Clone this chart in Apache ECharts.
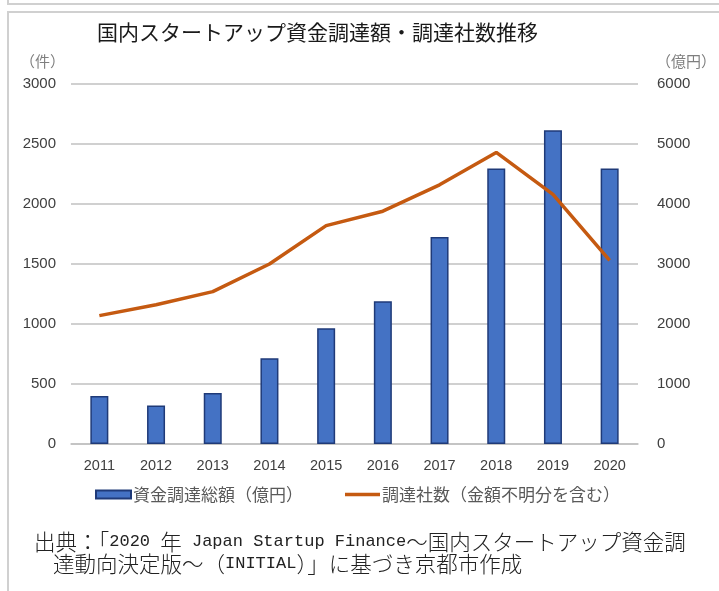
<!DOCTYPE html>
<html>
<head>
<meta charset="utf-8">
<script src="https://cdn.jsdelivr.net/npm/echarts@6/dist/echarts.min.js"></script>
<style>
  html, body { margin: 0; padding: 0; background: #fff; }
  #chart { width: 719px; height: 591px; }
</style>
</head>
<body>
<div id="chart"></div>
<script>
// 年
const years = ['2011', '2012', '2013', '2014', '2015', '2016', '2017', '2018', '2019', '2020']
// 資金調達総額（億円）
const amounts = [800, 640, 850, 1430, 1930, 2380, 3450, 4590, 5230, 4590]
// 調達社数（件）
const companies = [1070, 1160, 1270, 1500, 1820, 1940, 2160, 2430, 2080, 1530]

const jp = "'Noto Sans CJK JP', 'Liberation Sans', sans-serif"

// 出典の文字（全角は c、半角英数は l）
const srcRich = {
  c: { fontFamily: "'Noto Sans CJK JP'", fontSize: 21.5, fontWeight: 300, fill: '#222' },
  l: { fontFamily: "'Liberation Mono', 'DejaVu Sans Mono', monospace", fontSize: 17, fill: '#222' }
}

const chart = echarts.init(document.getElementById('chart'))
chart.setOption({
  animation: false,
  backgroundColor: '#fff',
  title: {
    text: '国内スタートアップ資金調達額・調達社数推移',
    left: 92,
    top: 17,
    textStyle: { fontFamily: jp, fontSize: 21, fontWeight: 'normal', color: '#1a1a1a' }
  },
  grid: { left: 71, right: 79, top: 84, bottom: 147 },
  legend: {
    left: 95,
    top: 486,
    padding: 0,
    itemWidth: 35,
    itemHeight: 8,
    itemGap: 42,
    textStyle: { fontFamily: jp, fontSize: 17, color: '#595959', padding: [0, 0, 0, -3] },
    data: [
      { name: '資金調達総額（億円）', icon: 'rect' },
      { name: '調達社数（金額不明分を含む）', icon: 'path://M0,0 L35,0 L35,3.5 L0,3.5 Z' }
    ]
  },
  xAxis: {
    type: 'category',
    data: years,
    axisTick: { show: false },
    axisLine: { lineStyle: { color: '#c0c0c0', width: 1.5 } },
    axisLabel: { color: '#404040', fontSize: 14.5, margin: 14, fontFamily: 'Liberation Sans' }
  },
  yAxis: [
    {
      type: 'value',
      min: 0,
      max: 3000,
      interval: 500,
      name: '（件）',
      nameGap: 15,
      nameTextStyle: { fontFamily: jp, fontSize: 15, color: '#7f7f7f', align: 'right', padding: [0, 6, 0, 0] },
      axisLabel: { color: '#404040', fontSize: 15, margin: 15, fontFamily: 'Liberation Sans', formatter: v => String(v) },
      splitLine: { lineStyle: { color: '#c0c0c0', width: 1.5 } }
    },
    {
      type: 'value',
      min: 0,
      max: 6000,
      interval: 1000,
      name: '（億円）',
      nameGap: 15,
      nameTextStyle: { fontFamily: jp, fontSize: 15, color: '#7f7f7f', align: 'left', padding: [0, 0, 0, 18] },
      axisLabel: { color: '#404040', fontSize: 15, margin: 19, fontFamily: 'Liberation Sans', formatter: v => String(v) },
      splitLine: { show: false }
    }
  ],
  series: [
    {
      name: '資金調達総額（億円）',
      type: 'bar',
      yAxisIndex: 1,
      data: amounts,
      barWidth: 18,
      itemStyle: { color: '#4472C4', borderColor: '#1f3a78', borderWidth: 1.5 }
    },
    {
      name: '調達社数（金額不明分を含む）',
      type: 'line',
      yAxisIndex: 0,
      data: companies,
      symbol: 'none',
      itemStyle: { color: '#C55A11' },
      lineStyle: { color: '#C55A11', width: 3.5 }
    }
  ],
  graphic: [
    {
      type: 'rect',
      shape: { x: 8, y: -20, width: 760, height: 24 },
      style: { fill: 'none', stroke: '#d0d0d0', lineWidth: 2 }
    },
    {
      type: 'rect',
      shape: { x: 8, y: 12, width: 760, height: 640 },
      style: { fill: 'none', stroke: '#d0d0d0', lineWidth: 2 }
    },
    {
      type: 'text',
      left: 34,
      top: 531,
      style: {
        text: '{c|出典：「}{l|2020 }{c|年}{l| Japan Startup Finance}{c|～国内スタートアップ資金調}',
        rich: srcRich
      }
    },
    {
      type: 'text',
      left: 53,
      top: 553,
      style: {
        text: '{c|達動向決定版～（}{l|INITIAL}{c|）」に基づき京都市作成}',
        rich: srcRich
      }
    }
  ]
})
</script>
</body>
</html>
